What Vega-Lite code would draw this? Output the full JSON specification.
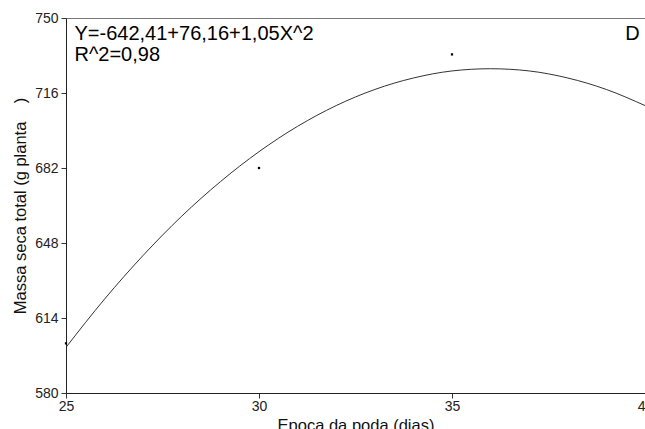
{
  "$schema": "https://vega.github.io/schema/vega-lite/v6.json",
  "autosize": "none",
  "width": 579,
  "height": 375,
  "padding": {"left": 66, "top": 18, "right": 0, "bottom": 36},
  "background": "white",
  "config": {
    "view": {"stroke": "#777", "strokeWidth": 1},
    "font": "Liberation Sans",
    "axis": {
      "grid": false,
      "domainColor": "#222",
      "tickColor": "#333",
      "labelColor": "#222",
      "titleColor": "#111",
      "labelFont": "Liberation Sans",
      "titleFont": "Liberation Sans",
      "labelFontSize": 14,
      "titleFontSize": 16.5,
      "titleFontWeight": "normal",
      "tickSize": 5,
      "labelFlush": false
    }
  },
  "datasets": {
    "curve": [
      {"dias": 25, "massa": 600.7},
      {"dias": 26, "massa": 622.6},
      {"dias": 27, "massa": 642.4},
      {"dias": 28, "massa": 660.2},
      {"dias": 29, "massa": 675.8},
      {"dias": 30, "massa": 689.4},
      {"dias": 31, "massa": 700.9},
      {"dias": 32, "massa": 710.3},
      {"dias": 33, "massa": 717.6},
      {"dias": 34, "massa": 722.8},
      {"dias": 35, "massa": 726.0},
      {"dias": 36, "massa": 727.0},
      {"dias": 37, "massa": 726.0},
      {"dias": 38, "massa": 722.8},
      {"dias": 39, "massa": 717.6},
      {"dias": 40, "massa": 710.3}
    ],
    "obs": [
      {"dias": 25, "massa": 602.5},
      {"dias": 30, "massa": 682.0},
      {"dias": 35, "massa": 733.5}
    ]
  },
  "layer": [
    {
      "data": {"name": "curve"},
      "mark": {"type": "line", "color": "#333", "strokeWidth": 1, "interpolate": "monotone", "clip": true},
      "encoding": {
        "x": {
          "field": "dias", "type": "quantitative",
          "scale": {"domain": [25, 40], "nice": false, "zero": false},
          "axis": {"values": [25, 30, 35, 40], "title": "Epoca da poda (dias)", "labelPadding": 1, "titlePadding": 4, "format": "d"}
        },
        "y": {
          "field": "massa", "type": "quantitative",
          "scale": {"domain": [580, 750], "nice": false, "zero": false},
          "axis": {"values": [580, 614, 648, 682, 716, 750], "title": "Massa seca total (g planta\u00a0\u00a0\u00a0\u00a0)", "labelPadding": 3, "titlePadding": 6, "format": "d"}
        }
      }
    },
    {
      "data": {"name": "obs"},
      "mark": {"type": "point", "shape": "square", "filled": true, "color": "#000", "size": 5, "opacity": 1},
      "encoding": {
        "x": {"field": "dias", "type": "quantitative"},
        "y": {"field": "massa", "type": "quantitative"}
      }
    },
    {
      "data": {"values": [{}]},
      "mark": {"type": "text", "align": "left", "baseline": "alphabetic", "fontSize": 20, "font": "Liberation Sans", "color": "#000", "text": "Y=-642,41+76,16+1,05X^2"},
      "encoding": {"x": {"datum": 25.22}, "y": {"datum": 740}}
    },
    {
      "data": {"values": [{}]},
      "mark": {"type": "text", "align": "left", "baseline": "alphabetic", "fontSize": 20, "font": "Liberation Sans", "color": "#000", "text": "R^2=0,98"},
      "encoding": {"x": {"datum": 25.22}, "y": {"datum": 730.3}}
    },
    {
      "data": {"values": [{}]},
      "mark": {"type": "text", "align": "right", "baseline": "alphabetic", "fontSize": 20, "font": "Liberation Sans", "color": "#000", "text": "D"},
      "encoding": {"x": {"datum": 39.86}, "y": {"datum": 740}}
    }
  ]
}
